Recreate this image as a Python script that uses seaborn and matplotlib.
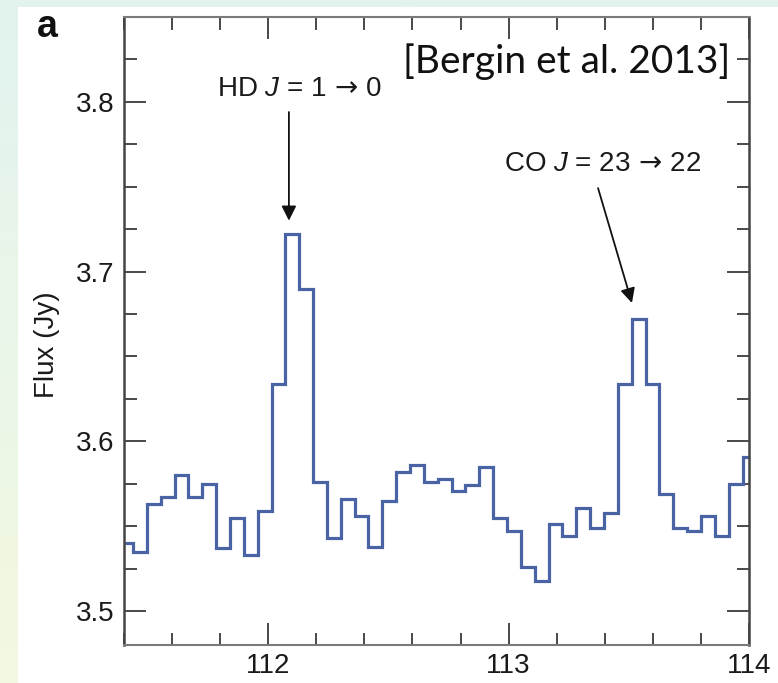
import numpy as np
import pandas as pd
import matplotlib
matplotlib.use("Agg")
import matplotlib.pyplot as plt
from matplotlib.patches import Rectangle
from matplotlib.ticker import MultipleLocator
import seaborn as sns

# Spectral bin centres (micron) and flux density (Jy)
wavelength = [
    111.409, 111.466, 111.524, 111.582, 111.639, 111.697, 111.754, 111.812,
    111.870, 111.927, 111.985, 112.043, 112.100, 112.158, 112.216, 112.273,
    112.331, 112.388, 112.446, 112.504, 112.561, 112.619, 112.677, 112.734,
    112.792, 112.849, 112.907, 112.965, 113.022, 113.080, 113.138, 113.195,
    113.253, 113.310, 113.368, 113.426, 113.483, 113.541, 113.599, 113.656,
    113.714, 113.772, 113.829, 113.887, 113.944, 114.002,
]
flux = [
    3.540, 3.535, 3.563, 3.567, 3.580, 3.567, 3.575, 3.537,
    3.555, 3.533, 3.559, 3.634, 3.722, 3.690, 3.576, 3.543,
    3.566, 3.556, 3.538, 3.565, 3.582, 3.586, 3.576, 3.578,
    3.571, 3.574, 3.585, 3.555, 3.547, 3.526, 3.518, 3.551,
    3.544, 3.561, 3.549, 3.558, 3.634, 3.672, 3.634, 3.569,
    3.549, 3.547, 3.556, 3.544, 3.575, 3.591,
]

line_labels = [r"HD $J$ = 1$\,\mathsf{\rightarrow}\,$0",
               r"CO $J$ = 23$\,\mathsf{\rightarrow}\,$22"]
citation = "[Bergin et al. 2013]"

sns.set_theme(style="ticks")
plt.rcParams["font.family"] = ["Liberation Sans", "DejaVu Sans"]
plt.rcParams["mathtext.fontset"] = "custom"
plt.rcParams["mathtext.rm"] = "Liberation Sans"
plt.rcParams["mathtext.it"] = "Liberation Sans:italic"
plt.rcParams["mathtext.sf"] = "DejaVu Sans"

df = pd.DataFrame({"wavelength": wavelength, "flux": flux})

fig = plt.figure(figsize=(7.78, 6.83), dpi=100)

# soft slide-style backdrop with the white panel on top
bg = fig.add_axes([0, 0, 1, 1], zorder=-10)
grad = np.linspace(0, 1, 256)[:, None]
cmap = matplotlib.colors.LinearSegmentedColormap.from_list(
    "bg", ["#e2f3ef", "#eaf6e8", "#f3f9e1"])
bg.imshow(grad, aspect="auto", cmap=cmap, extent=[0, 1, 0, 1], origin="upper")
bg.set_axis_off()
fig.add_artist(Rectangle((18 / 778, 0), 1 - 18 / 778, 1 - 7 / 683,
                         transform=fig.transFigure, facecolor="white",
                         edgecolor="none", zorder=-5))

ax = fig.add_axes([124 / 778, 1 - 645 / 683, 625 / 778, 628 / 683])
ax.set_facecolor("none")

sns.lineplot(data=df, x="wavelength", y="flux", ax=ax, estimator=None,
             drawstyle="steps-mid", color="#4a63a5", linewidth=2.3,
             solid_joinstyle="miter")

ax.set_xlim(111.4, 114.0)
ax.set_ylim(3.48, 3.85)
ax.xaxis.set_major_locator(MultipleLocator(1.0))
ax.xaxis.set_minor_locator(MultipleLocator(0.2))
ax.yaxis.set_major_locator(MultipleLocator(0.1))
ax.yaxis.set_minor_locator(MultipleLocator(0.025))
ax.yaxis.set_major_formatter(matplotlib.ticker.FormatStrFormatter("%.1f"))
ax.xaxis.set_major_formatter(matplotlib.ticker.FormatStrFormatter("%d"))

ax.tick_params(which="both", direction="in", top=True, right=True,
               colors="#3a3a3a", labelcolor="#1a1a1a", labelsize=20)
ax.tick_params(which="major", length=16, width=1.3)
ax.tick_params(which="minor", length=9, width=1.3)
ax.tick_params(axis="y", which="major", pad=7)
ax.tick_params(axis="x", which="major", pad=6)

for side in ["left", "right"]:
    ax.spines[side].set_color("#444444")
    ax.spines[side].set_linewidth(1.8)
for side in ["top", "bottom"]:
    ax.spines[side].set_color("#7a7a7a")
    ax.spines[side].set_linewidth(1.5)

ax.set_xlabel("")
ax.set_ylabel("Flux (Jy)", fontsize=20, color="#1a1a1a")
ax.yaxis.set_label_coords(-0.102, 0.479)

arrow = dict(arrowstyle="-|>", mutation_scale=22, lw=1.3, color="#111111",
             shrinkA=0, shrinkB=0)
ax.annotate("", xy=(112.086, 3.730), xytext=(112.086, 3.794), arrowprops=arrow)
ax.annotate("", xy=(113.513, 3.6815), xytext=(113.372, 3.7492), arrowprops=arrow)
ax.text(112.132, 3.8076, line_labels[0], fontsize=20, ha="center",
        va="center", color="#1a1a1a")
ax.text(113.3925, 3.7634, line_labels[1], fontsize=20, ha="center",
        va="center", color="#1a1a1a")
ax.text(113.243, 3.8235, citation, fontsize=28, ha="center", va="center",
        family=["Lato", "DejaVu Sans"], color="#111111")

fig.text(47 / 778, 1 - 27 / 683, "a", fontsize=27, fontweight="bold",
         ha="center", va="center", color="#111111")

fig.savefig("out.png", dpi=100)
